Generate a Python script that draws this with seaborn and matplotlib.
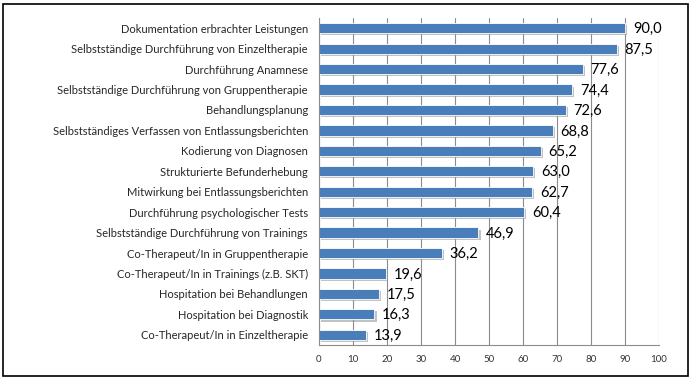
import numpy as np
import pandas as pd
import matplotlib
matplotlib.use("Agg")
import matplotlib.pyplot as plt
import matplotlib.patheffects as pe
from matplotlib.patches import Rectangle
from matplotlib.ticker import FixedLocator
import seaborn as sns

categories = [
    "Dokumentation erbrachter Leistungen",
    "Selbstständige Durchführung von Einzeltherapie",
    "Durchführung Anamnese",
    "Selbstständige Durchführung von Gruppentherapie",
    "Behandlungsplanung",
    "Selbstständiges Verfassen von Entlassungsberichten",
    "Kodierung von Diagnosen",
    "Strukturierte Befunderhebung",
    "Mitwirkung bei Entlassungsberichten",
    "Durchführung psychologischer Tests",
    "Selbstständige Durchführung von Trainings",
    "Co-Therapeut/In in Gruppentherapie",
    "Co-Therapeut/In in Trainings (z.B. SKT)",
    "Hospitation bei Behandlungen",
    "Hospitation bei Diagnostik",
    "Co-Therapeut/In in Einzeltherapie",
]
values = [90.0, 87.5, 77.6, 74.4, 72.6, 68.8, 65.2, 63.0,
          62.7, 60.4, 46.9, 36.2, 19.6, 17.5, 16.3, 13.9]
x_ticks = list(range(0, 101, 10))

sns.set_style("white")
plt.rcParams["font.family"] = ["Lato", "DejaVu Sans"]

df = pd.DataFrame({"Tätigkeit": categories, "Prozent": values})

fig = plt.figure(figsize=(6.92, 3.81), dpi=100)
ax = fig.add_axes([319 / 692, 1 - 345 / 381, 340 / 692, 327 / 381])

sns.barplot(data=df, y="Tätigkeit", x="Prozent", orient="h", color="#4a7ebb",
            saturation=1, width=0.5, ax=ax, edgecolor="white", linewidth=0.6)

for bar in ax.patches:
    bar.set_path_effects([pe.SimplePatchShadow(offset=(1.5, -1.5), shadow_rgbFace="#9a9a9a", alpha=0.6),
                          pe.Normal()])

for i, v in enumerate(values):
    ax.text(v + 2.3, i + 0.05, f"{v:.1f}".replace(".", ","), va="center", ha="left",
            fontsize=10.5, color="black")

ax.set_xlim(0, 100)
ax.set_ylim(15.5, -0.5)
ax.set_xticks(x_ticks)
ax.set_xticklabels([str(t) for t in x_ticks], fontsize=7, color="#333333")
ax.xaxis.grid(True, color="#8c8c8c", linewidth=0.8)
ax.set_axisbelow(True)
ax.set_xlabel("")
ax.set_ylabel("")

ax.tick_params(axis="y", which="major", length=0, labelsize=8, pad=8)
ax.yaxis.set_minor_locator(FixedLocator(np.arange(-0.5, 16, 1)))
ax.tick_params(axis="y", which="minor", length=4, color="#8c8c8c", width=0.8)
ax.tick_params(axis="x", which="major", length=4, color="#8c8c8c", width=0.8, direction="out", pad=3)

for s in ["top", "right"]:
    ax.spines[s].set_visible(False)
for s in ["left", "bottom"]:
    ax.spines[s].set_color("#8c8c8c")
    ax.spines[s].set_linewidth(0.8)

fig.patches.append(Rectangle((3 / 692, 5 / 381), 685 / 692, 372 / 381, transform=fig.transFigure,
                             fill=False, edgecolor="black", linewidth=1.2))

plt.savefig("out.png", dpi=100)
plt.close()
